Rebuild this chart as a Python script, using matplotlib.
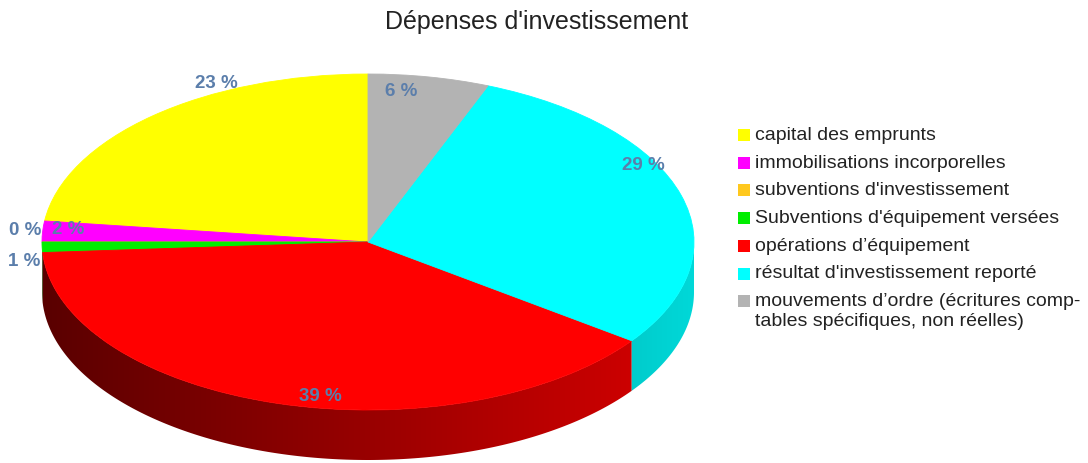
import numpy as np
import matplotlib
matplotlib.use('Agg')
import matplotlib.pyplot as plt
from matplotlib.patches import Rectangle, Polygon
from matplotlib.colors import to_rgb

plt.rcParams['font.family'] = ['Liberation Sans', 'DejaVu Sans']

# données
categories = ['capital des emprunts', 'immobilisations incorporelles',
              "subventions d'investissement", "Subventions d'équipement versées",
              'opérations d’équipement', "résultat d'investissement reporté",
              'mouvements d’ordre (écritures comp-\ntables spécifiques, non réelles)']
values = [23, 2, 0, 1, 39, 29, 6]
colors = ['#ffff00', '#ff00ff', '#ffc81e', '#00ee00', '#ff0000', '#00ffff', '#b3b3b3']
pct_labels = ['23 %', '2 %', '0 %', '1 %', '39 %', '29 %', '6 %']

# mise en page (pixels de l'image)
W, H = 1088, 464
cx, cy, rx, ry = 368, 243, 326, 168
depth = 50 / ry
label_px = [(216, 83), (68, 230), (25, 231), (24, 262), (320, 397), (643, 165), (401, 91)]
lab_color = '#5b7eab'

fig = plt.figure(figsize=(W / 100, H / 100), dpi=100)
ax = fig.add_axes([0, 0, 1, 1])

wedges, _ = ax.pie(values, colors=colors, startangle=90, counterclock=True,
                   radius=1, center=(0, 0), frame=True,
                   wedgeprops=dict(linewidth=0.6, zorder=3))
for w, c in zip(wedges, colors):
    w.set_edgecolor(c)

ax.set_aspect('auto')
ax.axis('off')

# flanc du camembert 3D (partie visible : 180° -> 360°), dégradé selon x
xs = np.linspace(-1, 1, 400)
shade = 0.35 + 0.45 * (xs + 1) / 1.81
for w, c in zip(wedges, colors):
    t1 = w.theta1 % 360
    t2 = t1 + (w.theta2 - w.theta1)
    for off in (0, 360):
        a, b = max(t1, 180 + off), min(t2, 360 + off)
        if b <= a:
            continue
        ts = np.radians(np.linspace(a, b, 200))
        top = np.column_stack([np.cos(ts), np.sin(ts)])
        bot = np.column_stack([np.cos(ts[::-1]), np.sin(ts[::-1]) - depth])
        side = Polygon(np.vstack([top, bot]), closed=True, facecolor='none',
                       edgecolor='none', zorder=2)
        ax.add_patch(side)
        grad = np.clip(np.array(to_rgb(c))[None, None, :] * shade[None, :, None], 0, 1)
        im = ax.imshow(grad, extent=(-1, 1, -1 - depth, 1), aspect='auto',
                       interpolation='bilinear', zorder=2)
        im.set_clip_path(side)

ax.set_xlim(-cx / rx, (W - cx) / rx)
ax.set_ylim((cy - H) / ry, cy / ry)

# étiquettes de pourcentage
for (px, py), t in zip(label_px, pct_labels):
    ax.text((px - cx) / rx, (cy - py) / ry, t, ha='center', va='center',
            fontsize=13.5, fontweight='bold', color=lab_color, zorder=5)

# titre
fig.text(537 / W, 1 - 22 / H, "Dépenses d'investissement", ha='center', va='center',
         fontsize=18, color='#222222')

# légende
for i, (lab, c) in enumerate(zip(categories, colors)):
    yc = 136 + i * 27.7
    fig.patches.append(Rectangle((738 / W, 1 - (yc + 6) / H), 12 / W, 12 / H,
                                 transform=fig.transFigure, facecolor=c, edgecolor='none'))
    fig.text(755 / W, 1 - (yc - 9) / H, lab, ha='left', va='top',
             fontsize=14, color='#222222', linespacing=1.2)

fig.savefig('out.png', dpi=100)
